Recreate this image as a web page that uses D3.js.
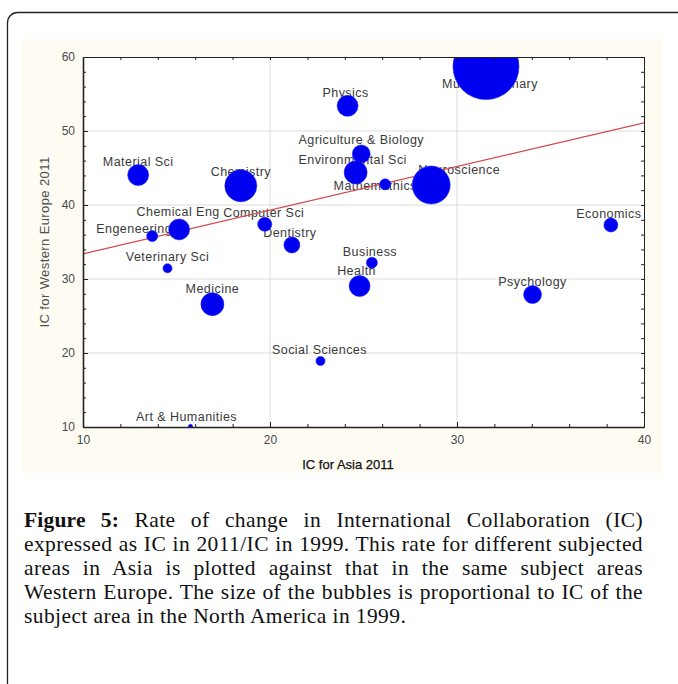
<!DOCTYPE html>
<html>
<head>
<meta charset="utf-8">
<script src="https://cdn.jsdelivr.net/npm/d3@7"></script>
<style>
  html, body { margin: 0; padding: 0; background: #ffffff; }
  #wrap { position: relative; width: 678px; height: 684px; overflow: hidden; }
  svg { position: absolute; left: 0; top: 0; }
  #caption { position: absolute; left: 24px; top: 508px; width: 619px;
    font-family: "Liberation Serif", "Times New Roman", serif; font-size: 21.5px; line-height: 24px;
    letter-spacing: 0.4px; color: #111; }
  #caption div { text-align: justify; text-align-last: justify; white-space: nowrap; }
  #caption div.last { text-align-last: left; }
  #caption b { font-weight: bold; letter-spacing: 0.2px; }
</style>
</head>
<body>
<div id="wrap">
<svg id="chart" width="678" height="684"></svg>
<div id="caption"></div>
</div>
<script>
// ---------------- data ----------------
const categories = ["Multidisciplinary","Physics","Agriculture & Biology","Environmental Sci","Mathemathics",
  "Neuroscience","Economics","Material Sci","Chemistry","Chemical Eng","Engeneering","Computer Sci",
  "Dentistry","Veterinary Sci","Medicine","Social Sciences","Art & Humanities","Business","Health","Psychology"];
const asia2011 = [31.55, 24.15, 24.88, 24.58, 26.16, 28.62, 38.23, 12.95, 18.44, 15.14, 13.70, 19.72,
  21.17, 14.52, 16.92, 22.70, 15.75, 25.45, 24.79, 34.04];
const westernEurope2011 = [58.7, 53.4, 46.9, 44.4, 42.8, 42.7, 37.3, 44.05, 42.6, 36.7, 35.8, 37.4,
  34.6, 31.45, 26.6, 18.92, 10.1, 32.2, 29.05, 27.9];
const northAmerica1999 = [100, 10.1, 7.4, 12.1, 2.8, 33.1, 4.5, 10.1, 23.5, 10.1, 2.8, 4.5,
  5.9, 1.9, 12.1, 1.9, 0.4, 2.8, 10.1, 7.4];
const trendX = [10, 40];
const trendY = [33.4, 51.1];
const xTicks = [10, 20, 30, 40];
const yTicks = [10, 20, 30, 40, 50, 60];
const xTitle = "IC for Asia 2011";
const yTitle = "IC for Western Europe 2011";
// label placement relative to each bubble centre (pixels)
const labelDx = [4, -2, 0, -3, -10, 28, -2, 0, 0, -1, -18, -1, -2, 0, 0, -1, -4, -2, -3, 0];
const labelDy = [21, -9, -10, -8, 6, -11, -7, -9, -10, -13, -3, -7, -8, -7, -11, -7, -5, -7, -11, -9];

const captionLines = [
  "<b>Figure 5:</b> Rate of change in International Collaboration (IC)",
  "expressed as IC in 2011/IC in 1999. This rate for different subjected",
  "areas in Asia is plotted against that in the same subject areas",
  "Western Europe. The size of the bubbles is proportional to IC of the",
  "subject area in the North America in 1999."
];

// ---------------- layout ----------------
const svg = d3.select("#chart");
const plot = {left: 83, right: 644, top: 57, bottom: 427};
const x = d3.scaleLinear().domain([10, 40]).range([plot.left, plot.right]);
const y = d3.scaleLinear().domain([10, 60]).range([plot.bottom, plot.top]);
const r = d3.scaleSqrt().domain([0, 100]).range([0, 33]);

// outer frame
svg.append("rect").attr("x", 7.5).attr("y", 12.5).attr("width", 720).attr("height", 720)
  .attr("rx", 10).attr("fill", "none").attr("stroke", "#222").attr("stroke-width", 1.3);
// cream panel
svg.append("rect").attr("x", 22).attr("y", 39).attr("width", 640).attr("height", 434)
  .attr("fill", "#fdfbf2");
// plot background
svg.append("rect").attr("x", plot.left).attr("y", plot.top)
  .attr("width", plot.right - plot.left).attr("height", plot.bottom - plot.top).attr("fill", "#ffffff");

svg.append("defs").append("clipPath").attr("id", "clip").append("rect")
  .attr("x", plot.left).attr("y", plot.top)
  .attr("width", plot.right - plot.left).attr("height", plot.bottom - plot.top);

// grid
const grid = svg.append("g");
grid.selectAll(".gx").data(xTicks.slice(1, -1)).join("line")
  .attr("x1", d => x(d)).attr("x2", d => x(d)).attr("y1", plot.top).attr("y2", plot.bottom)
  .attr("stroke", "#dcdcdc").attr("stroke-width", 1);
grid.selectAll(".gy").data(yTicks.slice(1, -1)).join("line")
  .attr("y1", d => y(d)).attr("y2", d => y(d)).attr("x1", plot.left).attr("x2", plot.right)
  .attr("stroke", "#dcdcdc").attr("stroke-width", 1);

const content = svg.append("g").attr("clip-path", "url(#clip)");
const data = categories.map((c, i) => ({c, x: asia2011[i], y: westernEurope2011[i], s: northAmerica1999[i], dx: labelDx[i], dy: labelDy[i]}));

// labels (drawn below bubbles)
content.selectAll("text.lbl").data(data).join("text")
  .attr("class", "lbl")
  .attr("x", d => x(d.x) + d.dx).attr("y", d => y(d.y) + d.dy)
  .attr("text-anchor", "middle")
  .attr("font-family", "'Liberation Sans', Arial, sans-serif").attr("font-size", 12.5)
  .attr("letter-spacing", 0.45).attr("fill", "#3a3a3a")
  .text(d => d.c);

// trend line
content.append("line")
  .attr("x1", x(trendX[0])).attr("y1", y(trendY[0]))
  .attr("x2", x(trendX[1])).attr("y2", y(trendY[1]))
  .attr("stroke", "#d2494e").attr("stroke-width", 1.3);

// bubbles
content.selectAll("circle").data(data).join("circle")
  .attr("cx", d => x(d.x)).attr("cy", d => y(d.y)).attr("r", d => r(d.s))
  .attr("fill", "#0000f0").attr("stroke", "#2020ff").attr("stroke-width", 0.6);

// axes (ticks pointing inwards, on all four sides)
const minorX = d3.range(10, 40.1, 2), minorY = d3.range(10, 60.1, 2);
const axisFont = "'Liberation Sans', Arial, sans-serif";
function styleAxis(g) {
  g.select(".domain").attr("stroke", "#222");
  g.selectAll(".tick line").attr("stroke", "#222");
  g.selectAll("text").attr("font-family", axisFont).attr("font-size", 12).attr("fill", "#4a4a4a");
}
svg.append("g").attr("transform", `translate(0,${plot.bottom})`)
  .call(d3.axisBottom(x).tickValues(minorX).tickSize(-3).tickFormat("").tickSizeOuter(0)).call(styleAxis);
svg.append("g").attr("transform", `translate(0,${plot.bottom})`)
  .call(d3.axisBottom(x).tickValues(xTicks).tickSize(-5).tickPadding(8).tickSizeOuter(0)).call(styleAxis)
  .select(".domain").attr("stroke-width", 1.6);
svg.append("g").attr("transform", `translate(0,${plot.top})`)
  .call(d3.axisTop(x).tickValues(minorX).tickSize(-3).tickFormat("").tickSizeOuter(0)).call(styleAxis);
svg.append("g").attr("transform", `translate(${plot.left},0)`)
  .call(d3.axisLeft(y).tickValues(minorY).tickSize(-3).tickFormat("").tickSizeOuter(0)).call(styleAxis);
svg.append("g").attr("transform", `translate(${plot.left},0)`)
  .call(d3.axisLeft(y).tickValues(yTicks).tickSize(-5).tickPadding(8).tickSizeOuter(0)).call(styleAxis)
  .select(".domain").attr("stroke-width", 1.6);
svg.append("g").attr("transform", `translate(${plot.right},0)`)
  .call(d3.axisRight(y).tickValues(minorY).tickSize(-3).tickFormat("").tickSizeOuter(0)).call(styleAxis);

// axis titles
svg.append("text").attr("x", 348).attr("y", 469).attr("text-anchor", "middle")
  .attr("font-family", axisFont).attr("font-size", 13).attr("fill", "#111")
  .attr("stroke", "#111").attr("stroke-width", 0.25).text(xTitle);
svg.append("text").attr("transform", `translate(49,${(plot.top + plot.bottom) / 2}) rotate(-90)`)
  .attr("text-anchor", "middle").attr("letter-spacing", 0.4)
  .attr("font-family", axisFont).attr("font-size", 13).attr("fill", "#505050").text(yTitle);

// caption
d3.select("#caption").selectAll("div").data(captionLines).join("div")
  .attr("class", (d, i) => i === captionLines.length - 1 ? "last" : null)
  .html(d => d);
</script>
</body>
</html>
